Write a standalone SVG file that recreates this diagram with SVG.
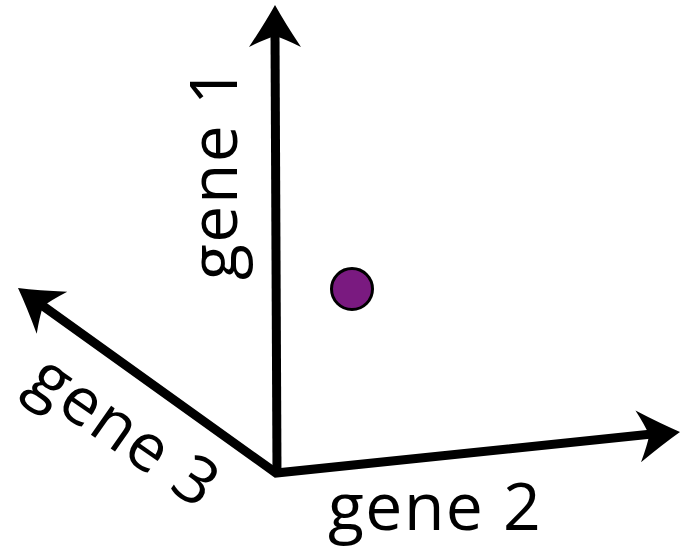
<svg xmlns="http://www.w3.org/2000/svg" width="688" height="554" viewBox="0 0 688 554">
  <style>
    .axis { fill: none; stroke: #000; stroke-width: 9; stroke-linejoin: miter; stroke-linecap: butt; }
    .lbl { font-family: "Open Sans", "Liberation Sans", sans-serif; font-size: 66px; letter-spacing: 1.5px; fill: #000; }
  </style>
  <defs>
    <path id="head" d="M0 0 Q-18 -10 -42 -26 Q-34 -10 -31 0 Q-34 10 -42 26 Q-18 10 0 0 Z" fill="#000"/>
  </defs>
  <rect width="688" height="554" fill="#fff"/>
  <g id="connectors">
    <path class="axis" d="M36 301 L276 473 L652 434"/>
    <path class="axis" d="M277 473 L275 34"/>
    <use href="#head" transform="translate(275,5) rotate(-90)"/>
    <use href="#head" transform="translate(680,432) rotate(-6.1)"/>
    <use href="#head" transform="translate(18,288) rotate(216)"/>
  </g>
  <g id="gene1">
    <text class="lbl" transform="translate(237,280) rotate(-90)">gene 1</text>
  </g>
  <g id="gene2">
    <text class="lbl" x="328" y="530">gene 2</text>
  </g>
  <g id="gene3">
    <text class="lbl" transform="translate(24,388) rotate(35)">gene 3</text>
  </g>
  <g id="point">
    <circle cx="352" cy="289" r="20.5" fill="#7a1a80" stroke="#000" stroke-width="3"/>
  </g>
</svg>
